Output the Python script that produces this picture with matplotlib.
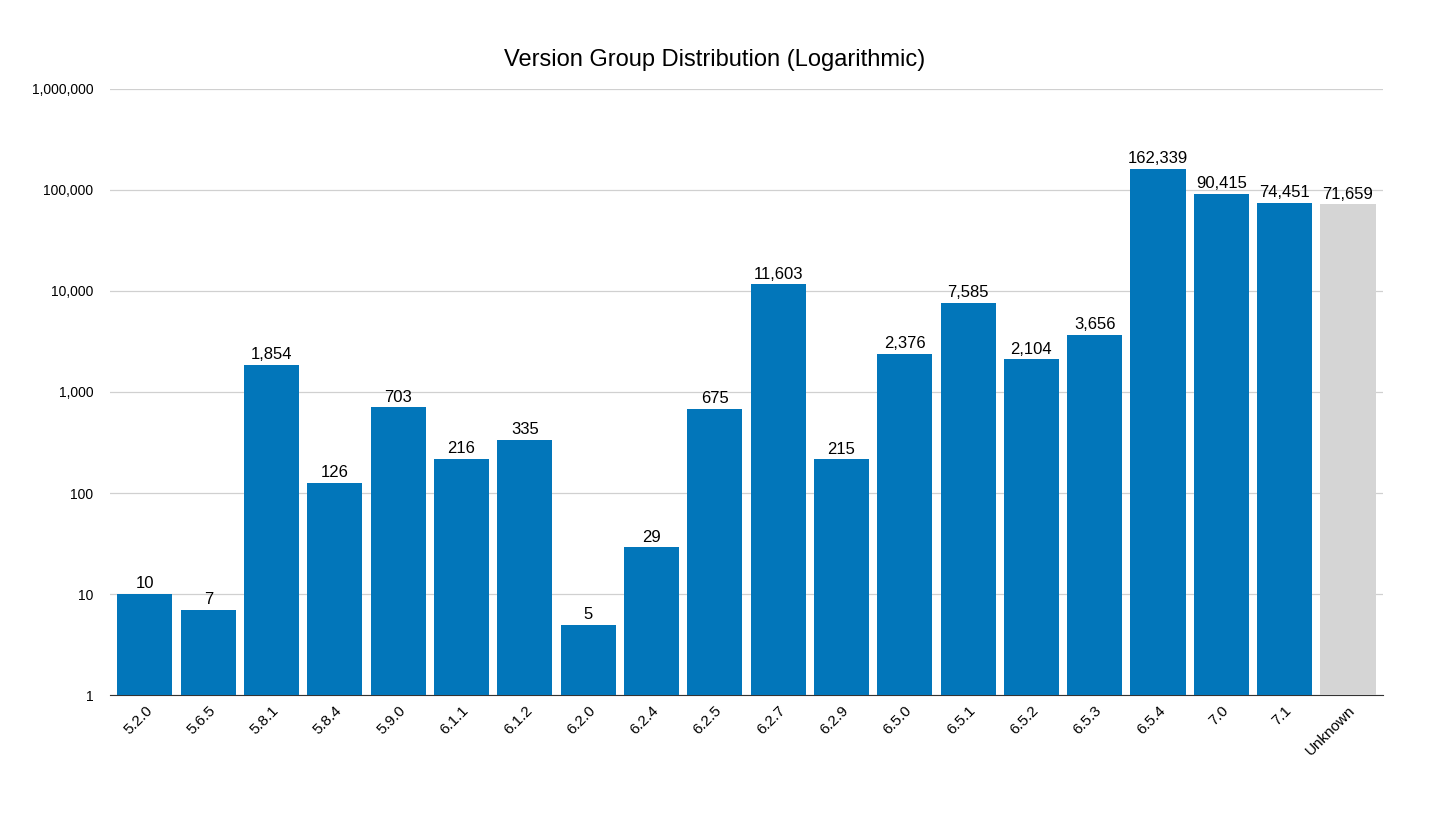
import matplotlib
matplotlib.use("Agg")
import matplotlib.pyplot as plt
from matplotlib.ticker import FuncFormatter

plt.rcParams["font.family"] = "Liberation Sans"

versions = ["5.2.0", "5.6.5", "5.8.1", "5.8.4", "5.9.0", "6.1.1", "6.1.2", "6.2.0", "6.2.4", "6.2.5",
            "6.2.7", "6.2.9", "6.5.0", "6.5.1", "6.5.2", "6.5.3", "6.5.4", "7.0", "7.1", "Unknown"]
counts = [10, 7, 1854, 126, 703, 216, 335, 5, 29, 675,
          11603, 215, 2376, 7585, 2104, 3656, 162339, 90415, 74451, 71659]

colors = ["#0276BA"] * (len(versions) - 1) + ["#D5D5D5"]

fig = plt.figure(figsize=(14.3, 8.14), dpi=100)
ax = fig.add_axes([0.077, 0.146, 0.890, 0.745])

x = range(len(versions))
bars = ax.bar(x, counts, width=0.87, color=colors, zorder=3)
ax.set_yscale("log")
ax.set_ylim(1, 1e6)
ax.set_xlim(-0.55, len(versions) - 0.45)
ax.yaxis.set_major_formatter(FuncFormatter(lambda v, p: f"{int(v):,}"))
ax.minorticks_off()
ax.grid(axis="y", color="#D0D0D0", linewidth=0.9, zorder=0)
ax.tick_params(axis="y", length=0, labelsize=10, pad=12)
ax.tick_params(axis="x", length=0, labelsize=11, pad=6)
ax.set_xticks(list(x))
ax.set_xticklabels(versions, rotation=45, ha="right", rotation_mode="anchor")
for s in ["top", "right", "left"]:
    ax.spines[s].set_visible(False)
ax.spines["bottom"].set_color("#333333")

for b, v in zip(bars, counts):
    ax.annotate(f"{v:,}", (b.get_x() + b.get_width() / 2, v), xytext=(0, 2),
                textcoords="offset points", ha="center", va="bottom", fontsize=12)

fig.suptitle("Version Group Distribution (Logarithmic)", y=0.94, fontsize=17)
fig.savefig("out.png")
